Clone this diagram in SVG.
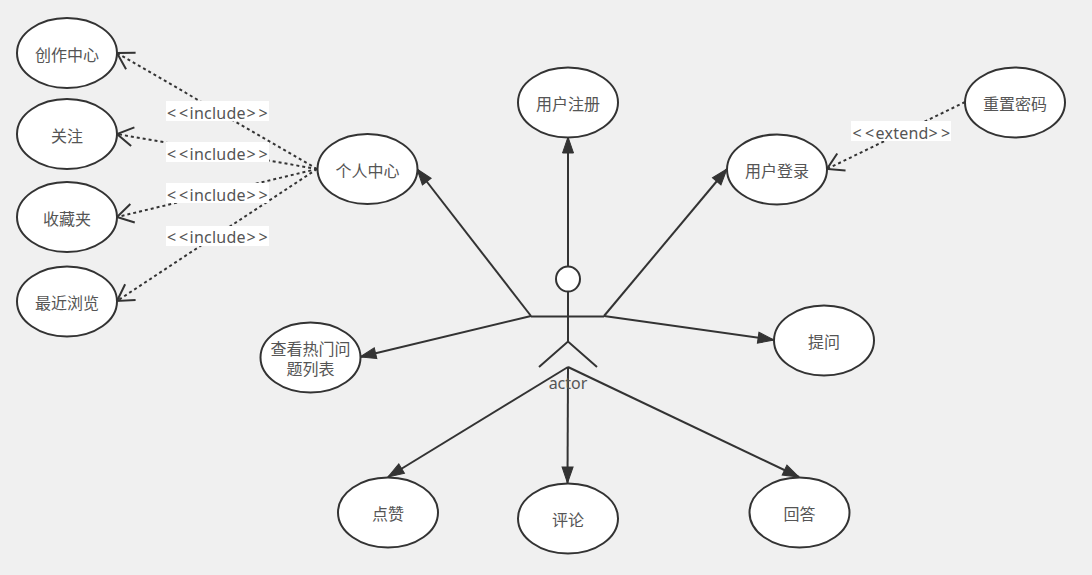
<svg xmlns="http://www.w3.org/2000/svg" width="1092" height="575" viewBox="0 0 1092 575">
<style>
text{font-family:"Noto Sans CJK SC","Noto Sans","Liberation Sans",sans-serif;font-size:16px;fill:#555;text-anchor:middle}
.u{fill:#fff;stroke:#333;stroke-width:2}
.l{fill:none;stroke:#333;stroke-width:2}
.s{marker-end:url(#solid)}
.d{stroke-dasharray:3 3;marker-end:url(#open)}
.lb{fill:#fff;stroke:none}
.t{font-family:"Noto Sans","Liberation Sans",sans-serif}
.st{text-anchor:start;letter-spacing:.25px}
</style>
<defs>
<marker id="solid" markerUnits="userSpaceOnUse" markerWidth="20" markerHeight="14" refX="17" refY="7" orient="auto" viewBox="0 0 20 14"><path d="M1 1.500 L17 7 L1 12.500 Z" fill="#333" stroke="#333" stroke-width="1"/></marker>
<marker id="open" markerUnits="userSpaceOnUse" markerWidth="22" markerHeight="24" refX="20" refY="12" orient="auto" viewBox="0 0 22 24"><path d="M4 2.500 L20 12 L4 21.500" fill="none" stroke="#333" stroke-width="2"/></marker>
</defs>
<rect width="1092" height="575" fill="#f0f0f0"/>
<g id="connectors">
<path class="l s" d="M568 266V137"/>
<path class="l s" d="M531 316L417 169"/>
<path class="l s" d="M604 316L727 169"/>
<path class="l s" d="M531 316L360 357"/>
<path class="l s" d="M604 316L774 340"/>
<path class="l s" d="M568 367L388 477"/>
<path class="l s" d="M568 367L567.500 483"/>
<path class="l s" d="M568 367L799 477"/>
<path class="l d" d="M317 169L117 53"/>
<path class="l d" d="M317 169L117 134"/>
<path class="l d" d="M317 169L117 217"/>
<path class="l d" d="M317 169L117 301"/>
<path class="l d" d="M965 102L827 169"/>
<g id="labels">
<rect class="lb" x="166" y="101" width="103" height="20"/><text class="t st" x="167 179 189.500" y="119">&lt;&lt;include<tspan x="246.500 258.500">&gt;&gt;</tspan></text>
<rect class="lb" x="166" y="142" width="103" height="20"/><text class="t st" x="167 179 189.500" y="160">&lt;&lt;include<tspan x="246.500 258.500">&gt;&gt;</tspan></text>
<rect class="lb" x="166" y="183" width="103" height="20"/><text class="t st" x="167 179 189.500" y="201">&lt;&lt;include<tspan x="246.500 258.500">&gt;&gt;</tspan></text>
<rect class="lb" x="166" y="226" width="103" height="20"/><text class="t st" x="167 179 189.500" y="242.500">&lt;&lt;include<tspan x="246.500 258.500">&gt;&gt;</tspan></text>
<rect class="lb" x="851" y="121" width="100" height="20"/><text class="t st" x="852.500 865 875.500" y="139">&lt;&lt;extend<tspan x="928.500 941">&gt;&gt;</tspan></text>
</g>
</g>
<g id="actor">
<ellipse class="u" cx="568" cy="279" rx="12" ry="12.500"/>
<path class="l" d="M568 291.500V341.500M531 316.500H604M539 367L568 341.500L597 367"/>
<text class="t" x="568" y="389">actor</text>
</g>
<g id="n1"><ellipse class="u" cx="67" cy="53" rx="50" ry="35"/><text x="67" y="61">创作中心</text></g>
<g id="n2"><ellipse class="u" cx="67" cy="134" rx="50" ry="35"/><text x="67" y="142">关注</text></g>
<g id="n3"><ellipse class="u" cx="67" cy="217" rx="50" ry="35"/><text x="67" y="225">收藏夹</text></g>
<g id="n4"><ellipse class="u" cx="67" cy="301.500" rx="50" ry="35"/><text x="67" y="309">最近浏览</text></g>
<g id="n5"><ellipse class="u" cx="367.500" cy="169" rx="50" ry="35"/><text x="367.500" y="177">个人中心</text></g>
<g id="n6"><ellipse class="u" cx="568" cy="102.500" rx="50" ry="35"/><text x="568" y="110">用户注册</text></g>
<g id="n7"><ellipse class="u" cx="777" cy="169.500" rx="50" ry="35"/><text x="777" y="177">用户登录</text></g>
<g id="n8"><ellipse class="u" cx="1015" cy="102.500" rx="50" ry="35"/><text x="1015" y="110">重置密码</text></g>
<g id="n9"><ellipse class="u" cx="310.500" cy="357.500" rx="50" ry="35"/><text x="310.500" y="355">查看热门问<tspan x="310.500" dy="20">题列表</tspan></text></g>
<g id="n10"><ellipse class="u" cx="824" cy="340.500" rx="50" ry="35"/><text x="824" y="348">提问</text></g>
<g id="n11"><ellipse class="u" cx="388" cy="512.500" rx="50" ry="35"/><text x="388" y="520">点赞</text></g>
<g id="n12"><ellipse class="u" cx="568" cy="518.500" rx="50" ry="35"/><text x="568" y="526">评论</text></g>
<g id="n13"><ellipse class="u" cx="799.500" cy="512.500" rx="50" ry="35"/><text x="799.500" y="520">回答</text></g>
</svg>
